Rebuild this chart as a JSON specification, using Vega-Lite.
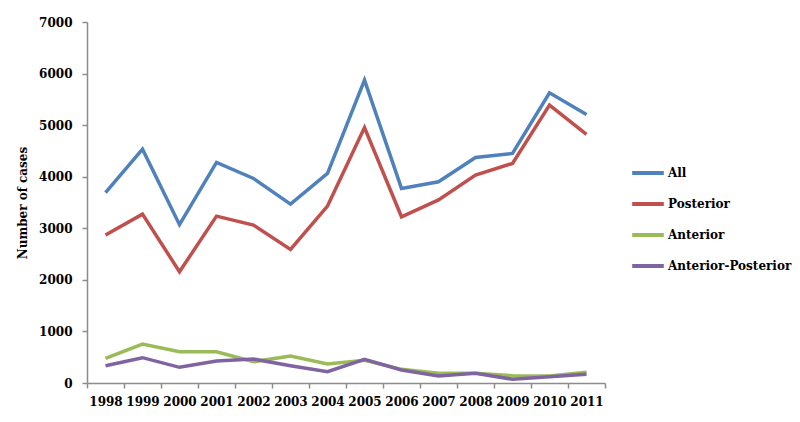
{
  "$schema": "https://vega.github.io/schema/vega-lite/v6.json",
  "width": 518,
  "height": 361,
  "autosize": {"type": "none"},
  "padding": {"left": 87, "top": 22, "right": 195, "bottom": 39},
  "background": "white",
  "config": {
    "view": {"stroke": null},
    "font": "DejaVu Serif"
  },
  "data": {
    "values": [
      {"year": "1998", "series": "All", "cases": 3690},
      {"year": "1999", "series": "All", "cases": 4535},
      {"year": "2000", "series": "All", "cases": 3070},
      {"year": "2001", "series": "All", "cases": 4277},
      {"year": "2002", "series": "All", "cases": 3967},
      {"year": "2003", "series": "All", "cases": 3469},
      {"year": "2004", "series": "All", "cases": 4063},
      {"year": "2005", "series": "All", "cases": 5872},
      {"year": "2006", "series": "All", "cases": 3773},
      {"year": "2007", "series": "All", "cases": 3901},
      {"year": "2008", "series": "All", "cases": 4374},
      {"year": "2009", "series": "All", "cases": 4451},
      {"year": "2010", "series": "All", "cases": 5626},
      {"year": "2011", "series": "All", "cases": 5207},
      {"year": "1998", "series": "Posterior", "cases": 2868},
      {"year": "1999", "series": "Posterior", "cases": 3275},
      {"year": "2000", "series": "Posterior", "cases": 2157},
      {"year": "2001", "series": "Posterior", "cases": 3236},
      {"year": "2002", "series": "Posterior", "cases": 3062},
      {"year": "2003", "series": "Posterior", "cases": 2591},
      {"year": "2004", "series": "Posterior", "cases": 3430},
      {"year": "2005", "series": "Posterior", "cases": 4955},
      {"year": "2006", "series": "Posterior", "cases": 3223},
      {"year": "2007", "series": "Posterior", "cases": 3550},
      {"year": "2008", "series": "Posterior", "cases": 4031},
      {"year": "2009", "series": "Posterior", "cases": 4258},
      {"year": "2010", "series": "Posterior", "cases": 5388},
      {"year": "2011", "series": "Posterior", "cases": 4820},
      {"year": "1998", "series": "Anterior", "cases": 479},
      {"year": "1999", "series": "Anterior", "cases": 756},
      {"year": "2000", "series": "Anterior", "cases": 607},
      {"year": "2001", "series": "Anterior", "cases": 607},
      {"year": "2002", "series": "Anterior", "cases": 413},
      {"year": "2003", "series": "Anterior", "cases": 523},
      {"year": "2004", "series": "Anterior", "cases": 368},
      {"year": "2005", "series": "Anterior", "cases": 440},
      {"year": "2006", "series": "Anterior", "cases": 265},
      {"year": "2007", "series": "Anterior", "cases": 188},
      {"year": "2008", "series": "Anterior", "cases": 188},
      {"year": "2009", "series": "Anterior", "cases": 142},
      {"year": "2010", "series": "Anterior", "cases": 134},
      {"year": "2011", "series": "Anterior", "cases": 207},
      {"year": "1998", "series": "Anterior-Posterior", "cases": 336},
      {"year": "1999", "series": "Anterior-Posterior", "cases": 491},
      {"year": "2000", "series": "Anterior-Posterior", "cases": 304},
      {"year": "2001", "series": "Anterior-Posterior", "cases": 426},
      {"year": "2002", "series": "Anterior-Posterior", "cases": 465},
      {"year": "2003", "series": "Anterior-Posterior", "cases": 336},
      {"year": "2004", "series": "Anterior-Posterior", "cases": 219},
      {"year": "2005", "series": "Anterior-Posterior", "cases": 459},
      {"year": "2006", "series": "Anterior-Posterior", "cases": 252},
      {"year": "2007", "series": "Anterior-Posterior", "cases": 136},
      {"year": "2008", "series": "Anterior-Posterior", "cases": 188},
      {"year": "2009", "series": "Anterior-Posterior", "cases": 72},
      {"year": "2010", "series": "Anterior-Posterior", "cases": 122},
      {"year": "2011", "series": "Anterior-Posterior", "cases": 169}
    ]
  },
  "mark": {"type": "line", "strokeWidth": 3.5, "strokeJoin": "miter", "strokeCap": "butt"},
  "encoding": {
    "x": {
      "field": "year",
      "type": "ordinal",
      "scale": {"type": "band", "paddingInner": 0, "paddingOuter": 0},
      "axis": {
        "title": null,
        "labelAngle": 0,
        "labelFont": "DejaVu Serif",
        "labelFontWeight": "bold",
        "labelFontSize": 12,
        "labelColor": "black",
        "labelPadding": 8,
        "tickBand": "extent",
        "tickSize": 5,
        "tickColor": "#8c8c8c",
        "domainColor": "#8c8c8c",
        "domainWidth": 1.5,
        "tickWidth": 1.5
      }
    },
    "y": {
      "field": "cases",
      "type": "quantitative",
      "scale": {"domain": [0, 7000], "nice": false},
      "axis": {
        "title": "Number of cases",
        "titleFont": "DejaVu Serif",
        "titleFontWeight": "bold",
        "titleFontSize": 12,
        "titleColor": "black",
        "titlePadding": 9,
        "values": [0, 1000, 2000, 3000, 4000, 5000, 6000, 7000],
        "format": "d",
        "grid": false,
        "labelFont": "DejaVu Serif",
        "labelFontWeight": "bold",
        "labelFontSize": 12,
        "labelColor": "black",
        "labelPadding": 10,
        "ticks": true,
        "tickSize": 5,
        "tickColor": "#8c8c8c",
        "domainColor": "#8c8c8c",
        "domainWidth": 1.5,
        "tickWidth": 1.5
      }
    },
    "color": {
      "field": "series",
      "type": "nominal",
      "scale": {
        "domain": ["All", "Posterior", "Anterior", "Anterior-Posterior"],
        "range": ["#4F81BD", "#C0504D", "#9BBB59", "#8064A2"]
      },
      "legend": {
        "title": null,
        "orient": "none",
        "legendX": 543,
        "legendY": 133,
        "symbolType": "stroke",
        "symbolStrokeWidth": 4,
        "symbolSize": 1000,
        "labelFont": "DejaVu Serif",
        "labelFontWeight": "bold",
        "labelFontSize": 12,
        "labelColor": "black",
        "labelOffset": 2,
        "rowPadding": 5
      }
    }
  }
}
